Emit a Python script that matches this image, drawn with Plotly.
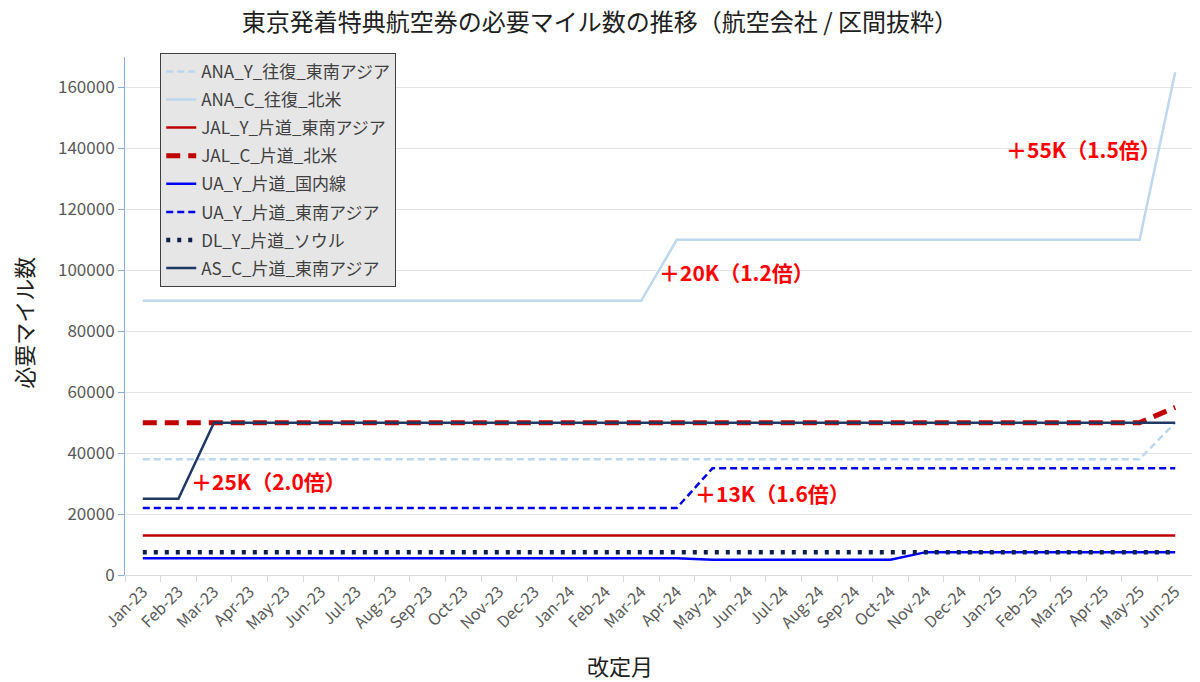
import plotly.graph_objects as go

months = ['Jan-23', 'Feb-23', 'Mar-23', 'Apr-23', 'May-23', 'Jun-23', 'Jul-23', 'Aug-23',
          'Sep-23', 'Oct-23', 'Nov-23', 'Dec-23', 'Jan-24', 'Feb-24', 'Mar-24', 'Apr-24',
          'May-24', 'Jun-24', 'Jul-24', 'Aug-24', 'Sep-24', 'Oct-24', 'Nov-24', 'Dec-24',
          'Jan-25', 'Feb-25', 'Mar-25', 'Apr-25', 'May-25', 'Jun-25']

ana_y_sea = [38000] * 29 + [50000]
ana_c_na = [90000] * 15 + [110000] * 14 + [165000]
jal_y_sea = [13000] * 30
jal_c_na = [50000] * 29 + [55000]
ua_y_dom = [5500] * 16 + [5000] * 6 + [7500] * 8
ua_y_sea = [22000] * 16 + [35000] * 14
dl_y_sel = [7500] * 30
as_c_sea = [25000] * 2 + [50000] * 28

series = [
    ('ANA_Y_往復_東南アジア', ana_y_sea, '#bdd7ee', 2.5, '7px,4px'),
    ('ANA_C_往復_北米', ana_c_na, '#bdd7ee', 2.5, 'solid'),
    ('JAL_Y_片道_東南アジア', jal_y_sea, '#c00000', 2.5, 'solid'),
    ('JAL_C_片道_北米', jal_c_na, '#c00000', 5, '14px,8px'),
    ('UA_Y_片道_国内線', ua_y_dom, '#0000ff', 2.5, 'solid'),
    ('UA_Y_片道_東南アジア', ua_y_sea, '#0000e6', 2.5, '7px,4px'),
    ('DL_Y_片道_ソウル', dl_y_sel, '#0d1f4f', 4.5, '4px,7px'),
    ('AS_C_片道_東南アジア', as_c_sea, '#1f3864', 2.5, 'solid'),
]

# annotation text, x position (category index), y value
notes = [
    ('＋25K（2.0倍）', 1.3, 31000),
    ('＋13K（1.6倍）', 15.45, 27000),
    ('＋20K（1.2倍）', 14.45, 99500),
    ('＋55K（1.5倍）', 24.2, 139800),
]

font = 'Noto Sans CJK JP'
fig = go.Figure()
for name, vals, color, width, dash in series:
    fig.add_trace(go.Scatter(
        x=months, y=vals, name=name, mode='lines', legendgroup=name,
        line=dict(color=color, width=width, dash=dash),
    ))

for text, x, y in notes:
    fig.add_annotation(x=x, y=y, text=text, showarrow=False, xanchor='left',
                       font=dict(family=font, size=21, color='#ff0000', weight='bold'))

# axis titles placed by hand, like the original chart
fig.add_annotation(xref='paper', yref='paper', x=0.4635, y=-0.1737, text='改定月',
                   showarrow=False, yanchor='middle',
                   font=dict(family=font, size=22, color='#202020'))
fig.add_annotation(xref='paper', yref='paper', x=-0.0955, y=0.487, text='必要マイル数',
                   showarrow=False, textangle=-90, xanchor='center',
                   font=dict(family=font, size=22, color='#202020'))

# page body has an 8px margin, so the figure is a bit smaller than the window
fig.update_layout(
    width=1192, height=674,
    margin=dict(l=117, r=7, t=49, b=107, autoexpand=False),
    paper_bgcolor='white', plot_bgcolor='white',
    font=dict(family=font, color='#404040'),
    title=dict(text='東京発着特典航空券の必要マイル数の推移（航空会社 / 区間抜粋）',
               x=0.4966, xanchor='center', y=0.9915, yanchor='top',
               font=dict(size=24, color='#202020')),
    legend=dict(x=0.033, y=1.008, xanchor='left', yanchor='top',
                bgcolor='#e6e6e6', bordercolor='#404040', borderwidth=1,
                tracegroupgap=3, font=dict(size=17, color='#404040')),
    showlegend=True,
    # second y axis only for the inner half of the crossing tick marks
    yaxis2=dict(overlaying='y', side='left', range=[0, 170000], dtick=20000,
                ticks='inside', ticklen=6, tickcolor='#8faadc', showticklabels=False,
                showgrid=False, zeroline=False, showline=False, automargin=False),
)
fig.update_xaxes(
    type='category', range=[-0.5, 29.5], tickangle=-45, automargin=False,
    tickson='boundaries', ticks='outside', ticklen=6, tickcolor='#d9d9d9',
    showline=True, linecolor='#d9d9d9', showgrid=False,
    tickfont=dict(size=16, color='#595959'),
)
fig.update_yaxes(
    selector=dict(overlaying=None),
    range=[0, 170000], dtick=20000, tickformat='d', automargin=False,
    ticks='outside', ticklen=6, tickcolor='#8faadc',
    showline=True, linecolor='#8faadc', gridcolor='#e3e3e3', zeroline=False,
    tickfont=dict(size=17, color='#595959'),
)

fig.write_html('out.html')
